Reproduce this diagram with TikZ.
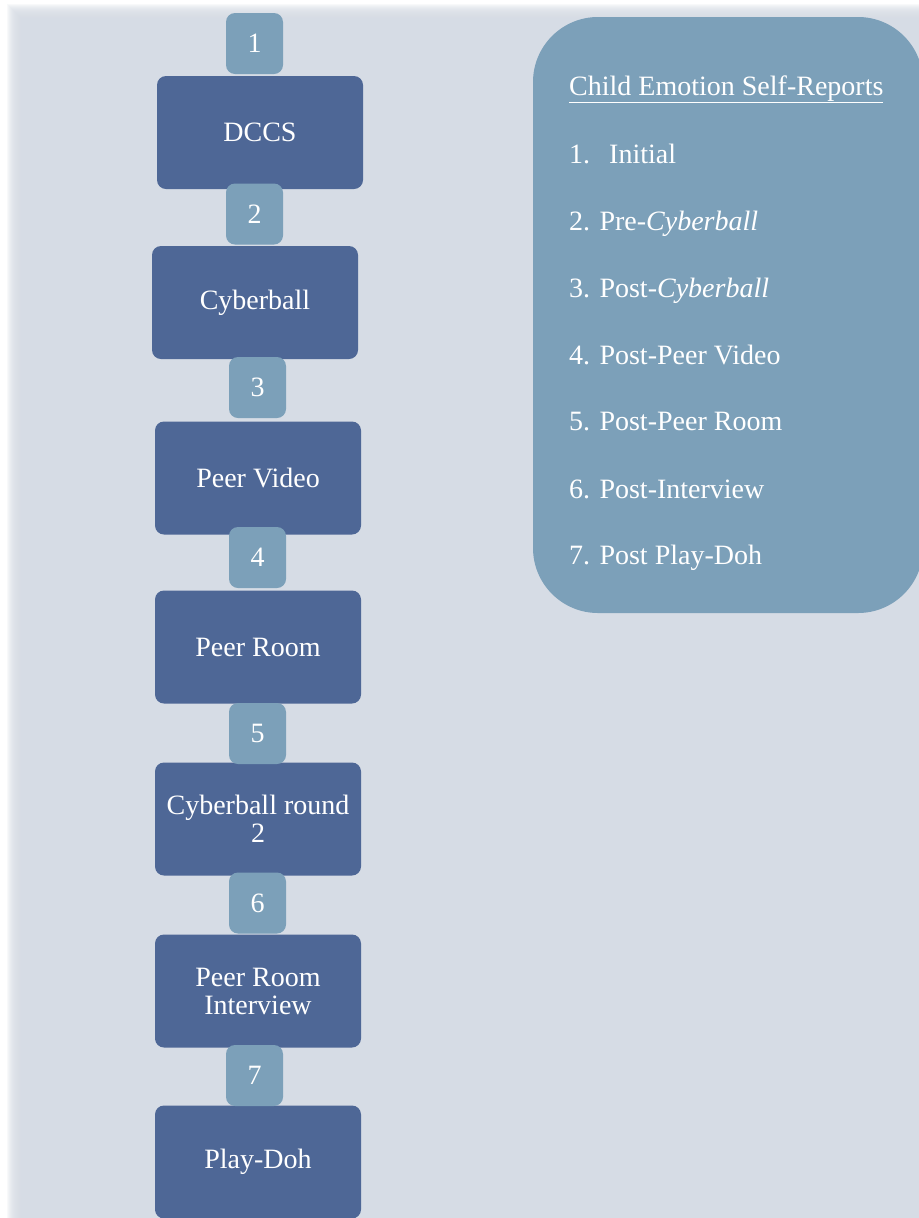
\documentclass[tikz,border=0pt]{standalone}
\usepackage{fontspec}
\setmainfont{Liberation Serif}
\definecolor{bgc}{RGB}{214,220,229}
\definecolor{darkbox}{RGB}{78,103,150}
\definecolor{lightbox}{RGB}{124,160,185}
\begin{document}
\begin{tikzpicture}[x=1bp,y=-1bp,
  stage/.style={rectangle, rounded corners=9bp, fill=darkbox, text=white,
    minimum width=206bp, minimum height=113bp, inner sep=0pt, align=center,
    font=\fontsize{28bp}{28bp}\selectfont},
  numbox/.style={rectangle, rounded corners=9bp, fill=lightbox, text=white,
    minimum width=57bp, minimum height=61bp, inner sep=0pt,
    font=\fontsize{28bp}{28bp}\selectfont},
  listitem/.style={anchor=base west, text=white, inner sep=0pt,
    font=\fontsize{28bp}{28bp}\selectfont}]
\useasboundingbox (0,0) rectangle (919,1218);
\fill[white] (0,0) rectangle (919,1218);
\foreach \i in {0,...,17} {
  \fill[bgc, opacity=0.16] (7+\i,4+\i) rectangle (919,1218);
}
\fill[bgc] (25,22) rectangle (919,1218);
% panel
\node[fill=lightbox, rounded corners=65bp, minimum width=390bp, minimum height=596bp, inner sep=0pt] (panel) at (728,315) {};
\node[listitem] (title) at (569,95) {\underline{Child Emotion Self-Reports}};
\node[listitem] (l1) at (569,163) {1.\hspace{19bp}Initial};
\node[listitem] (l2) at (569,230) {2. Pre-\textit{Cyberball}};
\node[listitem] (l3) at (569,297) {3. Post-\textit{Cyberball}};
\node[listitem] (l4) at (569,364) {4. Post-Peer Video};
\node[listitem] (l5) at (569,430) {5. Post-Peer Room};
\node[listitem] (l6) at (569,498) {6. Post-Interview};
\node[listitem] (l7) at (569,564) {7. Post Play-Doh};
% stages
\node[stage] (s1) at (260,132.5) {DCCS};
\node[stage] (s2) at (255,302.5) {Cyberball};
\node[stage] (s3) at (258,478) {Peer Video};
\node[stage] (s4) at (258,647) {Peer Room};
\node[stage] (s5) at (258,819) {Cyberball round\\2};
\node[stage] (s6) at (258,991) {Peer Room\\Interview};
\node[stage] (s7) at (258,1162) {Play-Doh};
% numbers
\node[numbox] (n1) at (254.5,43.5) {1};
\node[numbox] (n2) at (254.5,214) {2};
\node[numbox] (n3) at (257.5,387.5) {3};
\node[numbox] (n4) at (257.5,557.5) {4};
\node[numbox] (n5) at (257.5,733.5) {5};
\node[numbox] (n6) at (257.5,903) {6};
\node[numbox] (n7) at (254.5,1075.5) {7};
\end{tikzpicture}
\end{document}
